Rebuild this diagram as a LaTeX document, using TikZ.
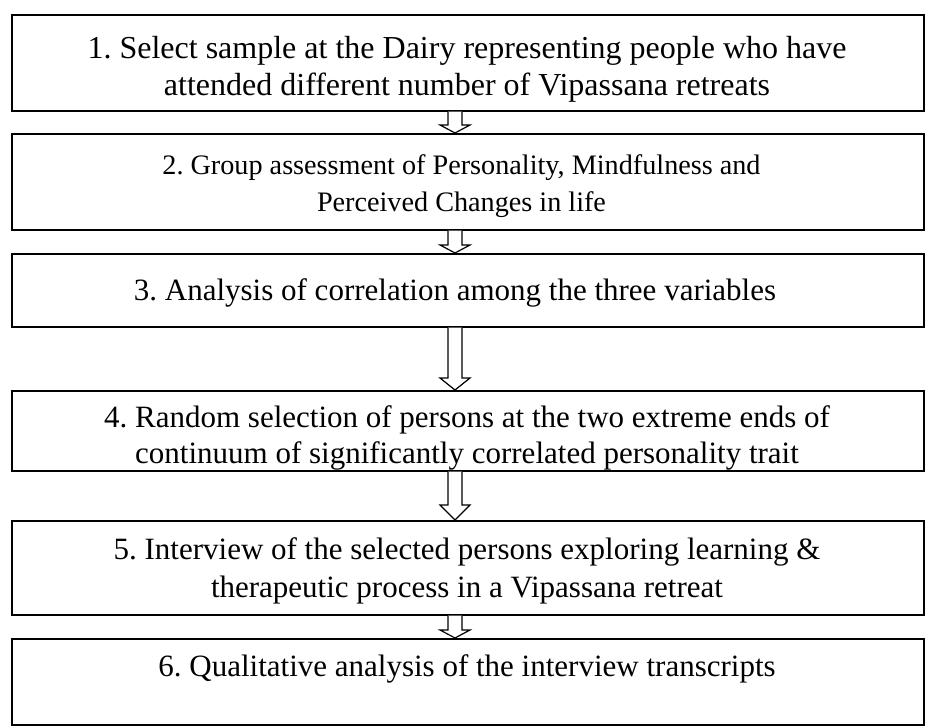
\documentclass[tikz,border=0pt]{standalone}
\usepackage{fontspec}
\setmainfont{Liberation Serif}
\usetikzlibrary{calc}
\frenchspacing
\begin{document}
\begin{tikzpicture}[x=1pt,y=-1pt,
  box/.style={draw,line width=1.6pt,rectangle,inner sep=0pt,anchor=north west},
  txtl/.style={font=\fontsize{32}{37}\selectfont,align=center,inner sep=0pt,anchor=base},
  txt/.style={font=\fontsize{31}{37}\selectfont,align=center,inner sep=0pt,anchor=base},
  txts/.style={font=\fontsize{28.2}{37}\selectfont,align=center,inner sep=0pt,anchor=base},
  blockarr/.style={draw,line width=1.2pt,fill=white,line join=miter}]
\useasboundingbox (0,0) rectangle (937,727);
\coordinate (ax) at (455,0);
\node[box,minimum width=912pt,minimum height=96pt] (b1) at (11,14) {};
\node[box,minimum width=912pt,minimum height=96pt] (b2) at (11,133) {};
\node[box,minimum width=912pt,minimum height=73pt] (b3) at (11,253) {};
\node[box,minimum width=912pt,minimum height=80pt] (b4) at (11,390) {};
\node[box,minimum width=912pt,minimum height=94pt] (b5) at (11,520) {};
\node[box,minimum width=912pt,minimum height=86pt] (b6) at (11,638) {};
\node[txtl] (t1a) at (467,59) {1. Select sample at the Dairy representing people who have};
\node[txtl] (t1b) at (467,96) {attended different number of Vipassana retreats};
\node[txts] (t2a) at (461.5,175) {2. Group assessment of Personality, Mindfulness and};
\node[txts] (t2b) at (461.5,212) {Perceived Changes in life};
\node[txt] (t3) at (455,301) {3. Analysis of correlation among the three variables};
\node[txt] (t4a) at (467,427) {4. Random selection of persons at the two extreme ends of};
\node[txt] (t4b) at (467,463) {continuum of significantly correlated personality trait};
\node[txt] (t5a) at (467,559) {5. Interview of the selected persons exploring learning \&};
\node[txt] (t5b) at (467,597) {therapeutic process in a Vipassana retreat};
\node[txt] (t6) at (467,676) {6. Qualitative analysis of the interview transcripts};
\foreach \a/\b/\h in {b1/b2/8,b2/b3/8,b3/b4/12,b4/b5/15,b5/b6/8}{
  \draw[blockarr] ($(\a.south -| ax)+(-7,0)$) -- ($(\b.north -| ax)+(-7,-\h)$) -- ($(\b.north -| ax)+(-15,-\h)$) -- (\b.north -| ax) -- ($(\b.north -| ax)+(15,-\h)$) -- ($(\b.north -| ax)+(7,-\h)$) -- ($(\a.south -| ax)+(7,0)$);
}
\end{tikzpicture}
\end{document}
